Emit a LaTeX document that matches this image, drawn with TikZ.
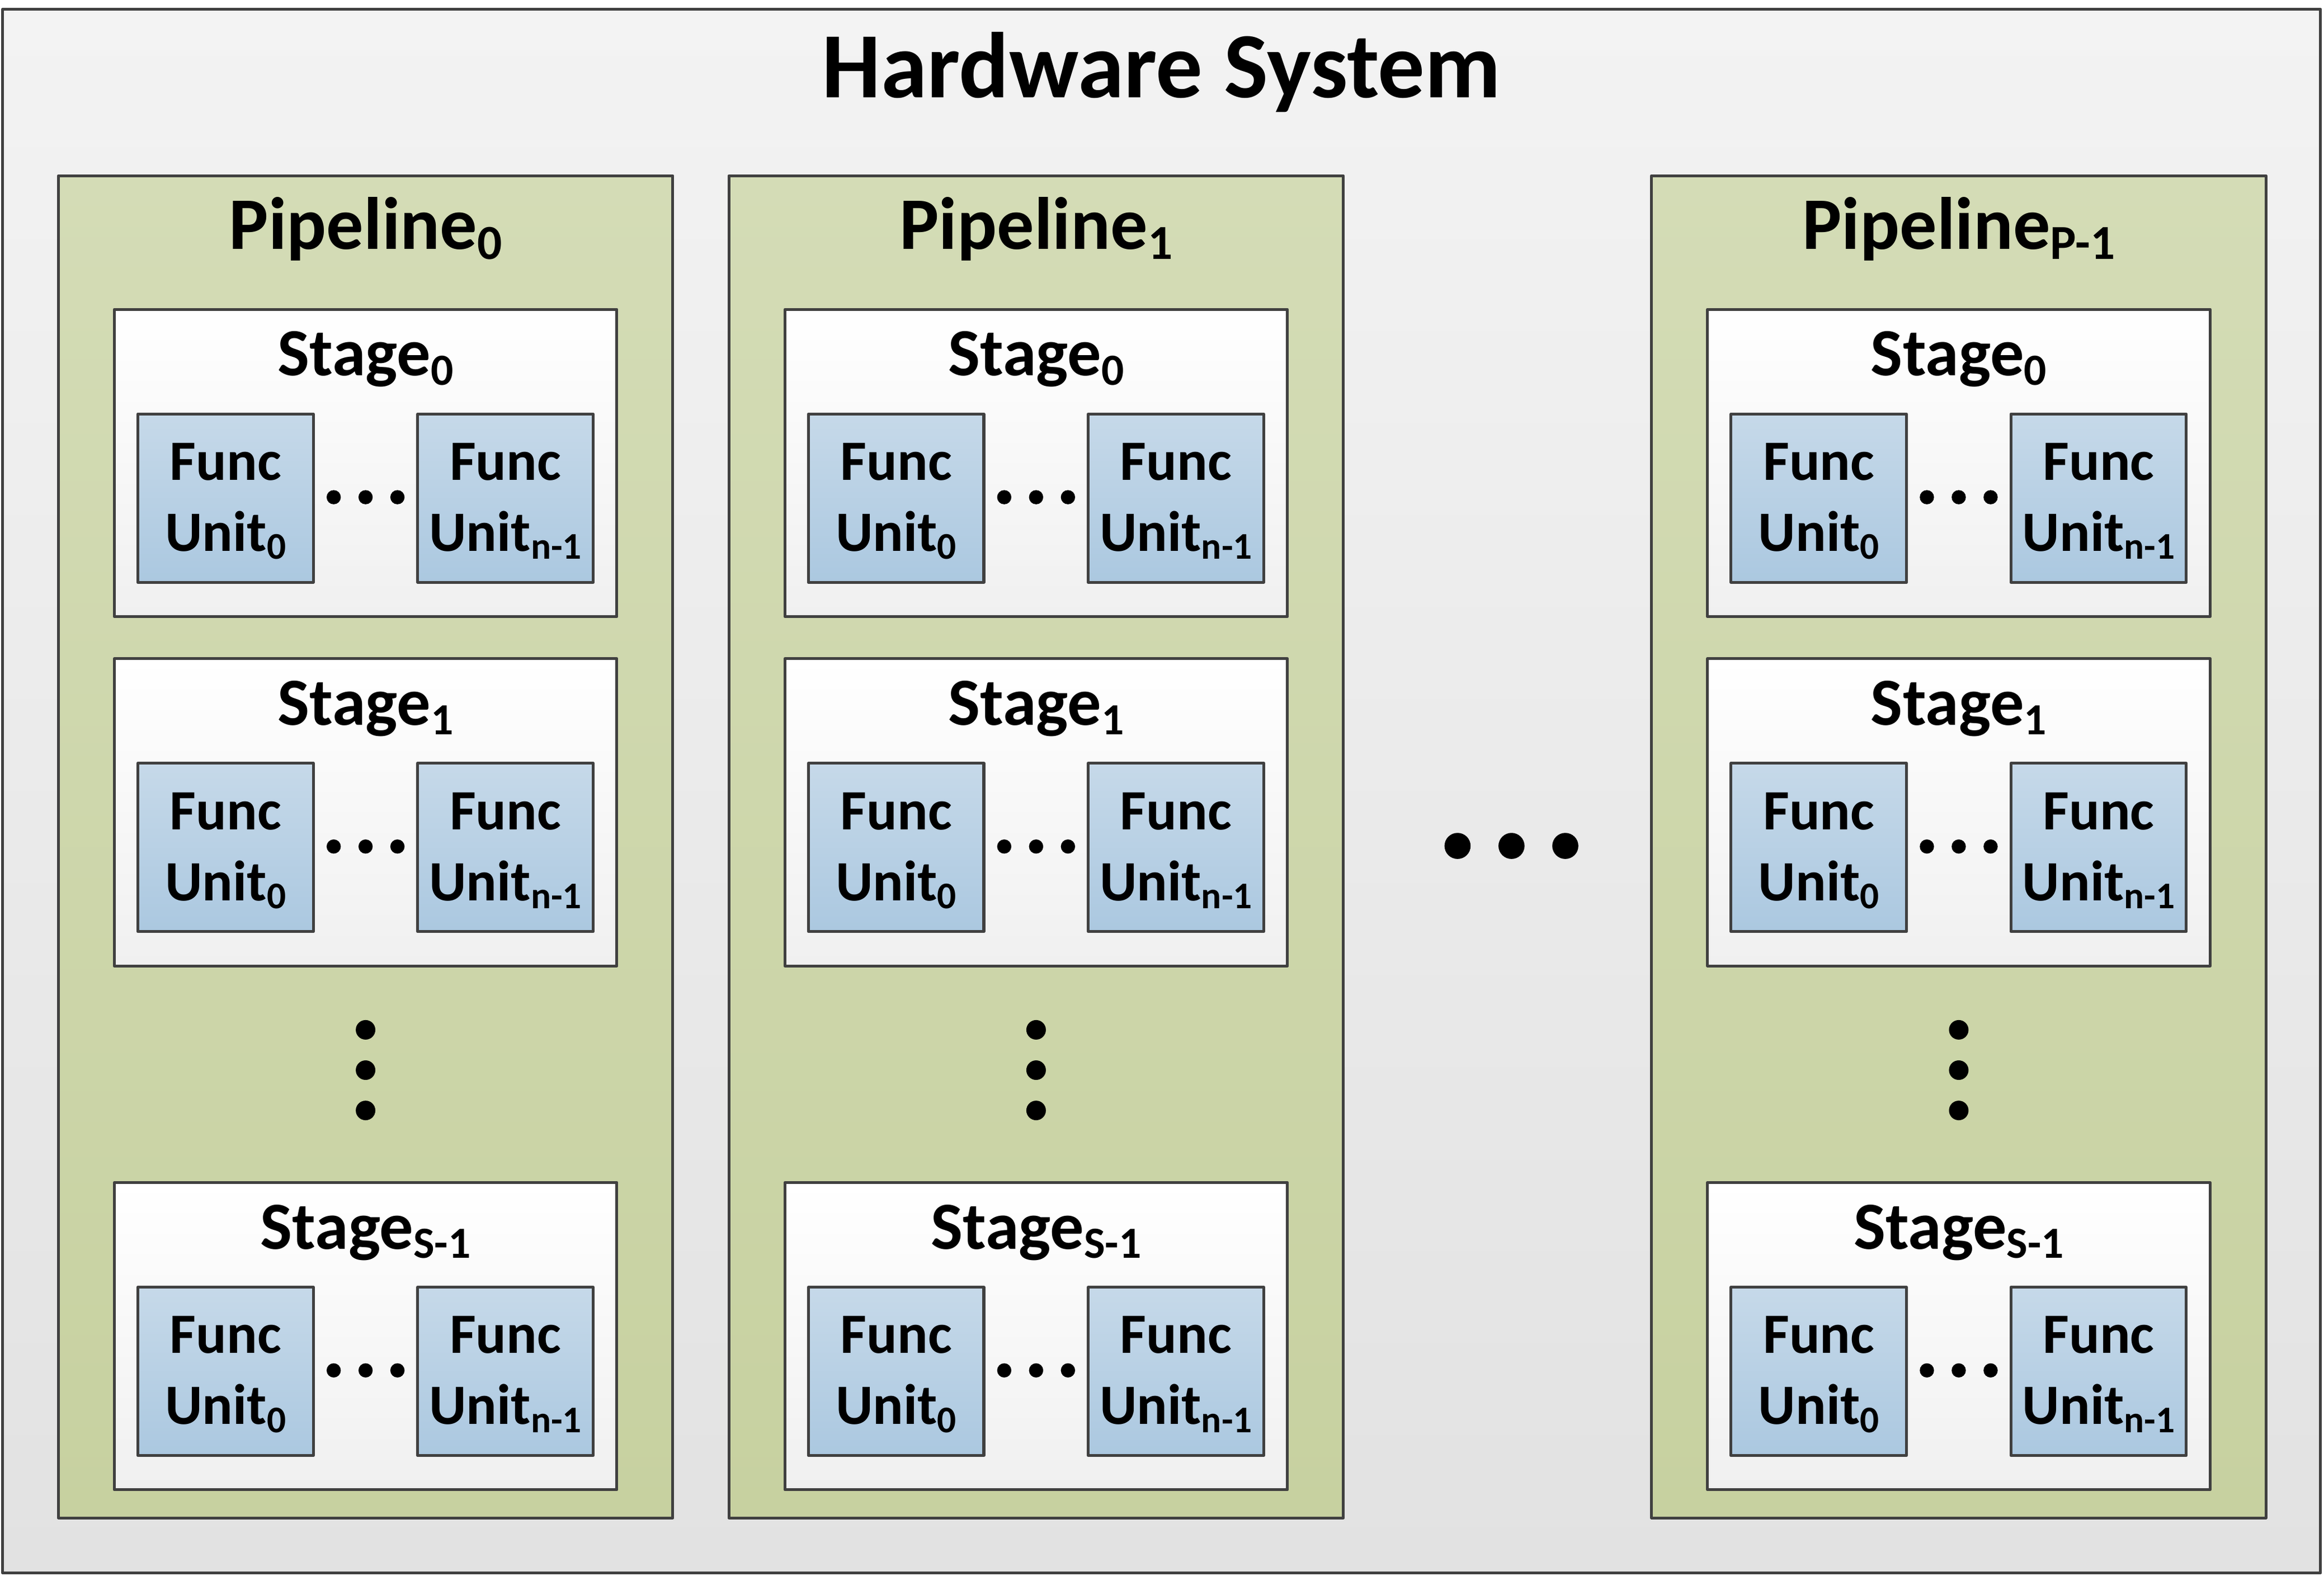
\documentclass[tikz,border=0pt]{standalone}
\usepackage{fontspec}
\setmainfont{Carlito}
\usepackage{graphicx}
\newcommand\subx[1]{\raisebox{-0.14em}{\scalebox{0.66}{#1}}}
\definecolor{bordc}{HTML}{404040}
\definecolor{hwtop}{HTML}{F3F3F3}
\definecolor{hwbot}{HTML}{E2E2E2}
\definecolor{pltop}{HTML}{D4DCB6}
\definecolor{plbot}{HTML}{C7D1A0}
\definecolor{sttop}{HTML}{FFFFFF}
\definecolor{stbot}{HTML}{F0F0F0}
\definecolor{futop}{HTML}{C6D9E9}
\definecolor{fubot}{HTML}{ABC8E0}
\begin{document}
\begin{tikzpicture}[x=1pt,y=-1pt,
  box/.style={draw=bordc, line width=1.9pt, line join=round, rectangle, inner sep=0pt, outer sep=0pt, anchor=north west},
  hwbox/.style={box, top color=hwtop, bottom color=hwbot, minimum width=1563.9pt, minimum height=1055.2pt},
  plbox/.style={box, top color=pltop, bottom color=plbot, minimum width=414.5pt, minimum height=905.7pt},
  stbox/.style={box, top color=sttop, bottom color=stbot, minimum width=339pt, minimum height=207.4pt},
  fubox/.style={box, top color=futop, bottom color=fubot, minimum width=118.4pt, minimum height=113.6pt},
  txt/.style={anchor=base, inner sep=0pt, outer sep=0pt},
  hwtxt/.style={txt, font=\fontsize{63}{74}\selectfont\bfseries},
  pltxt/.style={txt, font=\fontsize{50}{60}\selectfont\bfseries},
  sttxt/.style={txt, font=\fontsize{45.5}{54}\selectfont\bfseries},
  futxt/.style={txt, font=\fontsize{38.5}{46}\selectfont\bfseries},
  dotc/.style={fill=black}
]
\useasboundingbox (0,0) rectangle (1568,1063.4);
\node[hwbox] (hw) at (1.8,6.2) {};
\node[hwtxt] (hwt) at (783.7,66) {Hardware System};
\foreach \i/\L/\psub in {0/39.4/0, 1/491.8/1, 2/1114.3/{P-1}} {
  \node[plbox] (p\i) at (\L,118.5) {};
  \node[pltxt] (p\i t) at ({\L+207.25},168) {Pipeline\subx{\psub}};
  \foreach \j/\T/\ssub in {0/208.7/0, 1/444.4/1, 2/797.9/{S-1}} {
    \node[stbox] (p\i s\j) at ({\L+37.8},\T) {};
    \node[sttxt] (p\i s\j t) at ({\L+207.25},{\T+44.8}) {Stage\subx{\ssub}};
    \node[fubox] (p\i s\j f0) at ({\L+53.6},{\T+70.6}) {};
    \node[fubox] (p\i s\j f1) at ({\L+242.4},{\T+70.6}) {};
    \node[futxt] (p\i s\j f0a) at ({\L+112.8},{\T+115.3}) {Func};
    \node[futxt] (p\i s\j f0b) at ({\L+112.8},{\T+163.2}) {Unit\subx{0}};
    \node[futxt] (p\i s\j f1a) at ({\L+301.6},{\T+115.3}) {Func};
    \node[futxt] (p\i s\j f1b) at ({\L+301.6},{\T+163.2}) {Unit\subx{n-1}};
    \foreach \dx in {-21.5,0,21.5} {
      \fill[dotc] ({\L+207.25+\dx},{\T+126.8}) circle (4.8);
    }
  }
  \foreach \dy in {694.9,722.1,749.3} {
    \fill[dotc] ({\L+207.25},\dy) circle (6.6);
  }
}
\foreach \dx in {983.4,1019.8,1056.1} {
  \fill[dotc] (\dx,570.8) circle (8.8);
}
\end{tikzpicture}
\end{document}
